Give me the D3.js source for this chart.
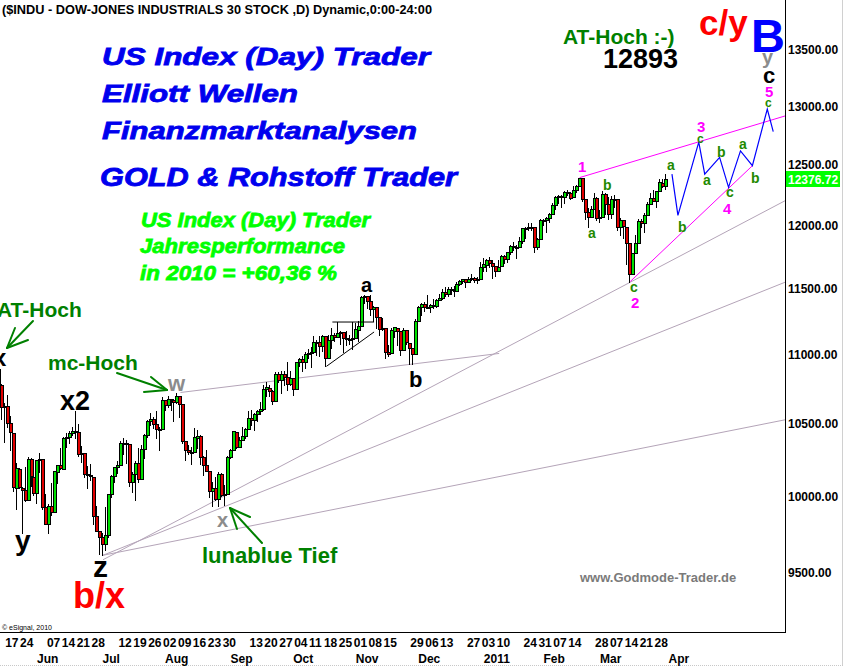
<!DOCTYPE html>
<html><head><meta charset="utf-8">
<script src="https://cdn.jsdelivr.net/npm/d3@7"></script>
<style>
html,body{margin:0;padding:0;background:#fff;}
svg{display:block;font-family:"Liberation Sans",Arial,sans-serif;}
</style></head><body>
<svg id="c" width="843" height="666"></svg>
<script>
// ---------- DATA ----------
const dates = [
"2010-05-13","2010-05-14","2010-05-17","2010-05-18","2010-05-19","2010-05-20","2010-05-21","2010-05-24","2010-05-25","2010-05-26","2010-05-27","2010-05-28",
"2010-06-01","2010-06-02","2010-06-03","2010-06-04","2010-06-07","2010-06-08","2010-06-09","2010-06-10","2010-06-11","2010-06-14","2010-06-15","2010-06-16","2010-06-17","2010-06-18","2010-06-21","2010-06-22","2010-06-23","2010-06-24","2010-06-25","2010-06-28","2010-06-29","2010-06-30",
"2010-07-01","2010-07-02","2010-07-06","2010-07-07","2010-07-08","2010-07-09","2010-07-12","2010-07-13","2010-07-14","2010-07-15","2010-07-16","2010-07-19","2010-07-20","2010-07-21","2010-07-22","2010-07-23","2010-07-26","2010-07-27","2010-07-28","2010-07-29","2010-07-30",
"2010-08-02","2010-08-03","2010-08-04","2010-08-05","2010-08-06","2010-08-09","2010-08-10","2010-08-11","2010-08-12","2010-08-13","2010-08-16","2010-08-17","2010-08-18","2010-08-19","2010-08-20","2010-08-23","2010-08-24","2010-08-25","2010-08-26","2010-08-27","2010-08-30","2010-08-31",
"2010-09-01","2010-09-02","2010-09-03","2010-09-07","2010-09-08","2010-09-09","2010-09-10","2010-09-13","2010-09-14","2010-09-15","2010-09-16","2010-09-17","2010-09-20","2010-09-21","2010-09-22","2010-09-23","2010-09-24","2010-09-27","2010-09-28","2010-09-29","2010-09-30",
"2010-10-01","2010-10-04","2010-10-05","2010-10-06","2010-10-07","2010-10-08","2010-10-11","2010-10-12","2010-10-13","2010-10-14","2010-10-15","2010-10-18","2010-10-19","2010-10-20","2010-10-21","2010-10-22","2010-10-25","2010-10-26","2010-10-27","2010-10-28","2010-10-29",
"2010-11-01","2010-11-02","2010-11-03","2010-11-04","2010-11-05","2010-11-08","2010-11-09","2010-11-10","2010-11-11","2010-11-12","2010-11-15","2010-11-16","2010-11-17","2010-11-18","2010-11-19","2010-11-22","2010-11-23","2010-11-24","2010-11-26","2010-11-29","2010-11-30",
"2010-12-01","2010-12-02","2010-12-03","2010-12-06","2010-12-07","2010-12-08","2010-12-09","2010-12-10","2010-12-13","2010-12-14","2010-12-15","2010-12-16","2010-12-17","2010-12-20","2010-12-21","2010-12-22","2010-12-23","2010-12-27","2010-12-28","2010-12-29","2010-12-30","2010-12-31",
"2011-01-03","2011-01-04","2011-01-05","2011-01-06","2011-01-07","2011-01-10","2011-01-11","2011-01-12","2011-01-13","2011-01-14","2011-01-18","2011-01-19","2011-01-20","2011-01-21","2011-01-24","2011-01-25","2011-01-26","2011-01-27","2011-01-28","2011-01-31",
"2011-02-01","2011-02-02","2011-02-03","2011-02-04","2011-02-07","2011-02-08","2011-02-09","2011-02-10","2011-02-11","2011-02-14","2011-02-15","2011-02-16","2011-02-17","2011-02-18","2011-02-22","2011-02-23","2011-02-24","2011-02-25","2011-02-28",
"2011-03-01","2011-03-02","2011-03-03","2011-03-04","2011-03-07","2011-03-08","2011-03-09","2011-03-10","2011-03-11","2011-03-14","2011-03-15","2011-03-16","2011-03-17","2011-03-18","2011-03-21","2011-03-22","2011-03-23","2011-03-24","2011-03-25","2011-03-28","2011-03-29","2011-03-30","2011-03-31",
"2011-04-01"];

const opens = [
10896,10780,10620,10625,10510,10440,10060,10190,10060,10045,9975,10258,
10136,10025,10250,10255,9932,9815,9940,9900,10170,10212,10190,10404,10409,10434,10451,10443,10294,10297,10152,10144,10135,9870,
9773,9732,9686,9743,10018,10138,10198,10216,10363,10366,10359,10098,10150,10230,10120,10322,10424,10525,10537,10498,10466,
10468,10674,10636,10679,10674,10654,10698,10644,10378,10319,10303,10303,10405,10415,10270,10214,10174,10040,10060,9985,10150,10010,
10016,10270,10321,10447,10340,10388,10415,10463,10543,10526,10571,10595,10608,10753,10760,10738,10664,10860,10812,10857,10836,
10789,10829,10752,10944,10968,10948,11007,11010,11020,11095,11094,11062,11142,10978,11107,11146,11133,11163,11168,11126,11114,
11120,11125,11188,11217,11434,11444,11405,11346,11357,11282,11193,11201,11023,11010,11181,11203,11178,11037,11186,11091,11051,
11006,11256,11360,11381,11362,11358,11373,11370,11411,11428,11475,11457,11499,11491,11478,11533,11559,11573,11555,11575,11584,11569,
11577,11670,11688,11722,11697,11673,11638,11673,11755,11731,11784,11835,11824,11823,11871,11979,11977,11984,11989,11824,
11892,12039,12040,12061,12092,12161,12233,12239,12229,12273,12266,12227,12287,12318,12390,12212,12105,12069,12131,
12226,12057,12068,12258,12171,12090,12212,12212,11983,12043,11990,11855,11614,11775,11859,12036,12018,12086,12170,12220,12197,12280,12350,
12321];

const highs = [
10920,10785,10650,10705,10560,10440,10230,10195,10065,10200,10270,10260,
10240,10250,10300,10255,10020,9950,10090,10175,10215,10335,10410,10440,10450,10480,10594,10500,10345,10300,10210,10220,10135,9935,
9775,9760,9930,10020,10145,10200,10245,10380,10400,10390,10359,10170,10240,10330,10350,10430,10530,10580,10550,10590,10480,
10690,10674,10700,10680,10674,10719,10700,10644,10378,10350,10340,10470,10460,10420,10275,10320,10174,10100,10130,10170,10160,10080,
10280,10322,10450,10447,10410,10480,10470,10590,10600,10580,10600,10660,10780,10800,10780,10740,10870,10870,10880,10880,10950,
10880,10830,10950,10975,10990,11020,11040,11060,11140,11110,11140,11150,11142,11150,11200,11160,11245,11180,11169,11180,11145,
11245,11240,11250,11440,11451,11445,11450,11370,11357,11282,11275,11201,11070,11200,11210,11203,11178,11200,11186,11091,11051,
11270,11370,11390,11395,11450,11380,11420,11420,11460,11500,11510,11510,11510,11520,11550,11565,11575,11575,11590,11610,11590,11590,
11710,11740,11730,11745,11720,11675,11720,11760,11760,11790,11840,11870,11840,11910,11980,11990,12020,12020,11990,11900,
12050,12050,12070,12100,12180,12240,12250,12250,12280,12290,12270,12320,12330,12391,12390,12212,12140,12160,12260,
12230,12120,12283,12260,12230,12240,12250,12212,12060,12043,11990,11860,11780,11925,12050,12050,12100,12190,12260,12290,12280,12380,12380,
12420];

const lows = [
10745,10537,10375,10480,10320,10040,9920,10060,9758,9970,9975,10070,
10013,9960,10165,9915,9815,9757,9880,9900,10090,10185,10190,10340,10370,10420,10400,10280,10235,10130,10060,10110,9820,9770,
9625,9614,9650,9730,10000,10100,10160,10216,10290,10230,10070,10030,9980,10100,10120,10260,10410,10490,10470,10400,10320,
10468,10600,10620,10600,10520,10650,10550,10370,10250,10290,10220,10303,10330,10220,10147,10172,10000,9936,9980,9940,10005,9941,
10016,10260,10321,10330,10340,10388,10400,10463,10490,10460,10520,10570,10600,10700,10700,10640,10664,10800,10720,10780,10740,
10780,10710,10752,10920,10880,10900,10980,10910,11020,11000,10990,11030,10920,10978,11050,11100,11133,11080,11020,11070,11080,
11040,11125,11100,11217,11390,11350,11300,11250,11200,11150,11185,10980,10990,11010,11130,11070,11000,11037,11080,10930,10930,
11006,11250,11300,11330,11350,11320,11350,11360,11410,11420,11440,11440,11460,11440,11478,11530,11540,11510,11550,11570,11550,11540,
11577,11640,11640,11670,11580,11600,11638,11673,11700,11710,11770,11800,11740,11823,11860,11900,11960,11960,11790,11810,
11892,12000,11950,12030,12092,12130,12180,12150,12180,12250,12210,12227,12270,12318,12200,12050,11983,12069,12131,
12040,12030,12068,12090,12050,12060,12150,11960,11920,11900,11690,11555,11614,11775,11859,11990,11950,12086,12170,12195,12150,12280,12310,
12300];

const closes = [
10782,10620,10625,10510,10444,10068,10193,10067,10043,9975,10259,10137,
10025,10250,10256,9932,9816,9940,9899,10173,10212,10191,10405,10410,10434,10450,10443,10294,10298,10152,10144,10138,9870,9774,
9732,9686,9744,10018,10139,10198,10216,10364,10367,10359,10098,10154,10230,10120,10322,10425,10525,10537,10498,10468,10466,
10674,10636,10680,10675,10654,10698,10645,10379,10320,10303,10302,10406,10416,10271,10213,10174,10040,10060,9985,10150,10010,10015,
10270,10320,10448,10341,10388,10416,10463,10544,10526,10572,10595,10608,10753,10761,10739,10662,10860,10812,10858,10835,10788,
10830,10751,10945,10968,10948,11006,11011,11021,11096,11094,11063,11143,10978,11108,11146,11133,11164,11169,11126,11114,11118,
11125,11189,11216,11434,11445,11406,11347,11358,11283,11193,11202,11024,11008,11182,11204,11179,11037,11187,11092,11052,11006,
11256,11362,11382,11362,11359,11373,11370,11411,11429,11476,11457,11499,11492,11478,11534,11560,11574,11555,11575,11585,11570,11578,
11671,11691,11722,11697,11675,11637,11671,11755,11732,11787,11837,11825,11823,11871,11980,11978,11985,11990,11823,11892,
12040,12041,12062,12092,12161,12234,12240,12230,12273,12268,12226,12288,12318,12391,12212,12105,12068,12130,12226,
12058,12066,12258,12170,12090,12214,12213,11984,12044,11993,11855,11613,11775,11858,12037,12019,12086,12171,12221,12198,12280,12351,12320,
12376.72];

const yTicks = [9500,10000,10500,11000,11500,12000,12500,13000,13500];

const dayTickDates = ["2010-05-17","2010-05-24","2010-06-07","2010-06-14","2010-06-21","2010-06-28","2010-07-12","2010-07-19","2010-07-26",
"2010-08-02","2010-08-09","2010-08-16","2010-08-23","2010-08-30","2010-09-13","2010-09-20","2010-09-27","2010-10-04","2010-10-11","2010-10-18","2010-10-25",
"2010-11-01","2010-11-08","2010-11-15","2010-11-29","2010-12-06","2010-12-13","2010-12-27","2011-01-03","2011-01-10","2011-01-24","2011-01-31",
"2011-02-07","2011-02-14","2011-02-28","2011-03-07","2011-03-14","2011-03-21","2011-03-28"];

const monthTickDates = ["2010-06-01","2010-07-01","2010-08-02","2010-09-01","2010-10-01","2010-11-01","2010-12-01","2011-01-03","2011-02-01","2011-03-01","2011-04-01"];
const monthTickLabels = ["Jun","Jul","Aug","Sep","Oct","Nov","Dec","2011","Feb","Mar","Apr"];

// projected wave path (future trading-day index, price)
const projIdx   = [226,228,235,237,242,245,249,253,258,260];
const projPrice = [12420,12080,12690,12420,12560,12310,12615,12490,12975,12780];

// trend lines: [idx0, price0, idx1, price1]
const fanLines = [[35,9585,264,12200],[35,9614,264,11550],[35,9614,264,10530],[61,10725,168,11010]];
const channelLines = [[195,12391,264,12915],[212,11555,253,12490]];
const triangleLines = [[112,11245,126,11245],[110,10915,126,11170]];

// ---------- CHART ----------
const svg = d3.select("#c");
const x = d3.scaleLinear().domain([35,224]).range([103,666]);
const y = d3.scaleLog().domain([9500,13500]).range([573,50]);
const idxOf = d => dates.indexOf(d);
const N = closes.length;
const plotR = 785, plotB = 632;

svg.append("defs").append("clipPath").attr("id","clip")
  .append("rect").attr("x",0).attr("y",0).attr("width",plotR).attr("height",plotB);

const plot = svg.append("g").attr("clip-path","url(#clip)");

// fan / trend lines
plot.selectAll("line.fan").data(fanLines).join("line")
  .attr("x1",d=>x(d[0])).attr("y1",d=>y(d[1])).attr("x2",d=>x(d[2])).attr("y2",d=>y(d[3]))
  .attr("stroke","#b4a4b8").attr("stroke-width",1);

// candles
const cx = i => Math.round(x(i));
const idx = d3.range(N);
plot.selectAll("line.wick").data(idx).join("line")
  .attr("x1",i=>cx(i)-0.5).attr("x2",i=>cx(i)-0.5)
  .attr("y1",i=>Math.round(y(highs[i]))).attr("y2",i=>Math.round(y(lows[i]))+1)
  .attr("stroke","#000").attr("stroke-width",1);
plot.selectAll("rect.body").data(idx).join("rect")
  .attr("x",i=>cx(i)-1.5).attr("width",3)
  .attr("y",i=>Math.round(y(Math.max(opens[i],closes[i])))+0.5)
  .attr("height",i=>Math.max(1,Math.round(y(Math.min(opens[i],closes[i])))-Math.round(y(Math.max(opens[i],closes[i])))))
  .attr("fill",i=>closes[i]>=opens[i]?"#00e000":"#e00000")
  .attr("stroke","#000").attr("stroke-width",1);

// triangle (black)
plot.selectAll("line.tri").data(triangleLines).join("line")
  .attr("x1",d=>x(d[0])).attr("y1",d=>y(d[1])).attr("x2",d=>x(d[2])).attr("y2",d=>y(d[3]))
  .attr("stroke","#000").attr("stroke-width",1);

// magenta channel
plot.selectAll("line.ch").data(channelLines).join("line")
  .attr("x1",d=>x(d[0])).attr("y1",d=>y(d[1])).attr("x2",d=>x(d[2])).attr("y2",d=>y(d[3]))
  .attr("stroke","#ff00ff").attr("stroke-width",1);

// projection path
plot.append("path")
  .datum(projIdx.map((d,i)=>[d,projPrice[i]]))
  .attr("d",d3.line().x(d=>x(d[0])).y(d=>y(d[1])))
  .attr("fill","none").attr("stroke","#0000ff").attr("stroke-width",1.2);

// frame
svg.append("line").attr("x1",plotR+0.5).attr("x2",plotR+0.5).attr("y1",0).attr("y2",plotB+0.5).attr("stroke","#000");
svg.append("line").attr("x1",0).attr("x2",plotR+1).attr("y1",plotB+0.5).attr("y2",plotB+0.5).attr("stroke","#000");
svg.append("line").attr("x1",842.5).attr("x2",842.5).attr("y1",0).attr("y2",666).attr("stroke","#d0d0d0");
svg.append("line").attr("x1",0).attr("x2",843).attr("y1",665.5).attr("y2",665.5).attr("stroke","#c8c8c8").attr("stroke-dasharray","1,1");

// y axis
const yAxis = svg.append("g").attr("transform",`translate(${plotR},0)`)
  .call(d3.axisRight(y).tickValues(yTicks).tickFormat(d3.format(".2f")).tickSize(0).tickPadding(3));
yAxis.select(".domain").remove();
yAxis.selectAll("text").attr("font-family","'Liberation Sans',Arial,sans-serif")
  .attr("font-size",12).attr("font-weight","bold").attr("fill","#000");

// last price box
const last = N-1;
svg.append("rect").attr("x",786).attr("y",Math.round(y(closes[last]))-8).attr("width",54).attr("height",16).attr("fill","#00ff00");
svg.append("text").attr("x",788).attr("y",Math.round(y(closes[last]))+5)
  .attr("font-size",12).attr("font-weight","bold").attr("fill","#fff")
  .text(d3.format(".2f")(closes[last]));

// x axes
const dayAxis = svg.append("g").attr("transform",`translate(0,${plotB})`)
  .call(d3.axisBottom(x).tickValues(dayTickDates.map(idxOf)).tickFormat(i=>dates[i].slice(8)).tickSize(0).tickPadding(0));
dayAxis.select(".domain").remove();
dayAxis.selectAll("text").attr("text-anchor","start").attr("y",15).attr("dy",null)
  .attr("font-family","'Liberation Sans',Arial,sans-serif").attr("font-size",12).attr("font-weight","bold").attr("fill","#000");

const monAxis = svg.append("g").attr("transform",`translate(2,${plotB})`)
  .call(d3.axisBottom(x).tickValues(monthTickDates.map(idxOf)).tickFormat((i,k)=>monthTickLabels[k]).tickSize(0).tickPadding(0));
monAxis.select(".domain").remove();
monAxis.selectAll("text").attr("text-anchor","start").attr("y",31).attr("dy",null)
  .attr("font-family","'Liberation Sans',Arial,sans-serif").attr("font-size",12).attr("font-weight","bold").attr("fill","#000");

// title
svg.append("text").attr("x",2).attr("y",14).attr("font-size",13).attr("font-weight","bold")
  .attr("textLength",430).attr("lengthAdjust","spacingAndGlyphs")
  .text("($INDU - DOW-JONES INDUSTRIALS 30 STOCK ,D) Dynamic,0:00-24:00");

// big italic texts
const bigTexts = [
 ["US Index (Day) Trader",102,65,24,328,"#0000ee"],
 ["Elliott Wellen",102,102,24,196,"#0000ee"],
 ["Finanzmarktanalysen",102,139,24,315,"#0000ee"],
 ["GOLD & Rohstoff Trader",100,186,25,357,"#0000ee"],
 ["US Index (Day) Trader",141,227,20,229,"#00ff00"],
 ["Jahresperformance",140,253,20,205,"#00ff00"],
 ["in 2010 = +60,36 %",140,280,20,197,"#00ff00"]
];
svg.selectAll("text.big").data(bigTexts).join("text")
  .attr("x",d=>d[1]).attr("y",d=>d[2]).attr("font-size",d=>d[3])
  .attr("font-weight","bold").attr("font-style","italic")
  .attr("textLength",d=>d[4]).attr("lengthAdjust","spacingAndGlyphs")
  .attr("fill",d=>d[5]).attr("stroke",d=>d[5]).attr("stroke-width",0.8)
  .text(d=>d[0]);

// labels
const G = "#1f8a00", M = "#ff00ff", GR = "#8c8c8c";
const labels = [
 ["AT-Hoch :-)",563,44,21,"#008000"],
 ["12893",603,68,27,"#000"],
 ["c/y",699,35,35,"#ff0000"],
 ["B",751,52,47,"#0000ff"],
 ["y",762,64,20,GR],
 ["c",763,83,22,"#000"],
 ["5",765,97,15,M],
 ["c",765,107,12,G],
 ["AT-Hoch",-3,317,21,"#008000"],
 ["x",-7,366,24,"#000"],
 ["mc-Hoch",48,370,21,"#008000"],
 ["w",168,391,22,GR],
 ["x2",60,410,27,"#000"],
 ["y",15,550,28,"#000"],
 ["z",93,577,30,"#000"],
 ["b/x",73,608,36,"#ff0000"],
 ["x",217,527,20,GR],
 ["lunablue Tief",202,563,22,"#008000"],
 ["a",361,292,20,"#000"],
 ["b",409,387,22,"#000"],
 ["1",578,172,15,M],
 ["a",588,238,14,G],["b",603,190,14,G],["c",630,292,14,G],
 ["2",631,308,15,M],
 ["a",667,170,14,G],["b",678,232,14,G],
 ["3",697,132,15,M],["c",697,143,12,G],
 ["a",703,185,14,G],["b",717,157,14,G],["c",726,197,14,G],
 ["4",723,214,15,M],["a",739,149,14,G],["b",751,183,14,G],
 ["www.Godmode-Trader.de",580,582,13,"#7a7a7a"]
];
svg.selectAll("text.lbl").data(labels).join("text")
  .attr("x",d=>d[1]).attr("y",d=>d[2]).attr("font-size",d=>d[3])
  .attr("font-weight","bold").attr("fill",d=>d[4]).text(d=>d[0]);

svg.append("text").attr("x",2).attr("y",630).attr("font-size",7).attr("fill","#000").text("© eSignal, 2010");

// green arrows
const arrows = [
 [[33,321],[7,348],[15,328],[28,340]],
 [[117,373],[167,390],[144,392],[151,377]],
 [[262,543],[230,508],[250,517],[237,529]]
];
arrows.forEach(a=>{
  const g = svg.append("g").attr("stroke","#008000").attr("stroke-width",2).attr("stroke-linecap","round");
  g.append("line").attr("x1",a[0][0]).attr("y1",a[0][1]).attr("x2",a[1][0]).attr("y2",a[1][1]);
  g.append("line").attr("x1",a[2][0]).attr("y1",a[2][1]).attr("x2",a[1][0]).attr("y2",a[1][1]);
  g.append("line").attr("x1",a[3][0]).attr("y1",a[3][1]).attr("x2",a[1][0]).attr("y2",a[1][1]);
});
</script>
</body></html>
